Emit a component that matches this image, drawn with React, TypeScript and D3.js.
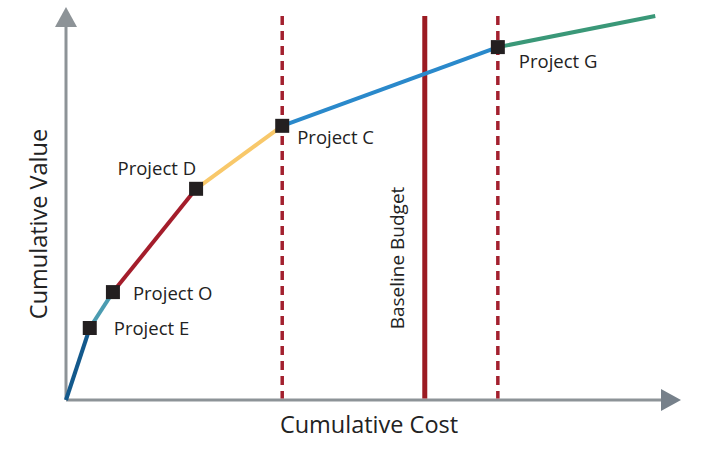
import { useEffect, useRef } from "react";
import * as d3 from "d3";

// cumulative cost / value at each project step (0-100 scale)
const projects = ["", "Project E", "Project O", "Project D", "Project C", "Project G", ""];
const costs = [0, 4.0, 7.9, 21.9, 36.4, 72.7, 99.2];
const values = [0, 18.75, 28.1, 55, 71.4, 91.9, 100];
const segmentColors = ["#13598c", "#4b9cb1", "#a41d2b", "#f8c86a", "#2a89cb", "#3a9878"];
const markerLabels = ["Project E", "Project O", "Project D", "Project C", "Project G"];

const dashedCosts = [36.4, 72.7];
const budgetCost = 60.4;

const W = 706;
const H = 450;

export default function App() {
  const svgRef = useRef<SVGSVGElement>(null);

  useEffect(() => {
    if (!svgRef.current) return;
    const svg = d3.select(svgRef.current);
    svg.selectAll("*").remove();

    const x = d3.scaleLinear().domain([0, 100]).range([66, 660]);
    const y = d3.scaleLinear().domain([0, 100]).range([400, 16]);
    const font = "'Open Sans', sans-serif";

    // axes
    svg.append("line")
      .attr("x1", x(0)).attr("x2", 662)
      .attr("y1", y(0)).attr("y2", y(0))
      .attr("stroke", "#8d9397").attr("stroke-width", 3);
    svg.append("path")
      .attr("d", `M661,${y(0) - 11}L681,${y(0)}L661,${y(0) + 11}Z`)
      .attr("fill", "#76808a");
    svg.append("line")
      .attr("x1", x(0)).attr("x2", x(0))
      .attr("y1", y(0)).attr("y2", 26)
      .attr("stroke", "#8d9397").attr("stroke-width", 3);
    svg.append("path")
      .attr("d", `M${x(0) - 11},27L${x(0)},7L${x(0) + 11},27Z`)
      .attr("fill", "#8d9397");

    // dashed reference lines
    dashedCosts.forEach((c) => {
      svg.append("line")
        .attr("x1", x(c)).attr("x2", x(c))
        .attr("y1", 16).attr("y2", y(0) - 1.5)
        .attr("stroke", "#a3202e").attr("stroke-width", 3.5)
        .attr("stroke-dasharray", "9,6");
    });

    // baseline budget
    svg.append("line")
      .attr("x1", x(budgetCost)).attr("x2", x(budgetCost))
      .attr("y1", 16).attr("y2", y(0) - 1.5)
      .attr("stroke", "#9b1b22").attr("stroke-width", 5);
    svg.append("text")
      .attr("transform", `translate(${x(budgetCost) - 28},258) rotate(-90)`)
      .attr("text-anchor", "middle")
      .attr("dominant-baseline", "central")
      .attr("font-family", font).attr("font-size", 19)
      .attr("fill", "#222")
      .text("Baseline Budget");

    // curve segments
    for (let i = 0; i < costs.length - 1; i++) {
      svg.append("line")
        .attr("x1", x(costs[i])).attr("y1", y(values[i]))
        .attr("x2", x(costs[i + 1])).attr("y2", y(values[i + 1]))
        .attr("stroke", segmentColors[i]).attr("stroke-width", 4);
    }

    // markers and labels
    const labelOffsets: Record<string, [number, number, string]> = {
      "Project E": [24, 7, "start"],
      "Project O": [20, 8, "start"],
      "Project D": [0, -14, "end"],
      "Project C": [15, 18, "start"],
      "Project G": [21, 21, "start"],
    };
    projects.forEach((p, i) => {
      if (!markerLabels.includes(p)) return;
      const cx = x(costs[i]);
      const cy = y(values[i]);
      svg.append("rect")
        .attr("x", cx - 7).attr("y", cy - 7)
        .attr("width", 14).attr("height", 14)
        .attr("fill", "#231f20");
      const [dx, dy, anchor] = labelOffsets[p];
      svg.append("text")
        .attr("x", cx + dx).attr("y", cy + dy)
        .attr("text-anchor", anchor)
        .attr("font-family", font).attr("font-size", 18.5)
        .attr("fill", "#222")
        .text(p);
    });

    // axis titles
    svg.append("text")
      .attr("x", 369).attr("y", 433)
      .attr("text-anchor", "middle")
      .attr("font-family", font).attr("font-size", 23.5)
      .attr("fill", "#222")
      .text("Cumulative Cost");
    svg.append("text")
      .attr("transform", "translate(38,224) rotate(-90)")
      .attr("text-anchor", "middle")
      .attr("dominant-baseline", "central")
      .attr("font-family", font).attr("font-size", 23.5)
      .attr("fill", "#222")
      .text("Cumulative Value");
  }, []);

  return (
    <svg
      ref={svgRef}
      width={W}
      height={H}
      style={{ position: "absolute", left: 0, top: 0, background: "#fff" }}
    />
  );
}
